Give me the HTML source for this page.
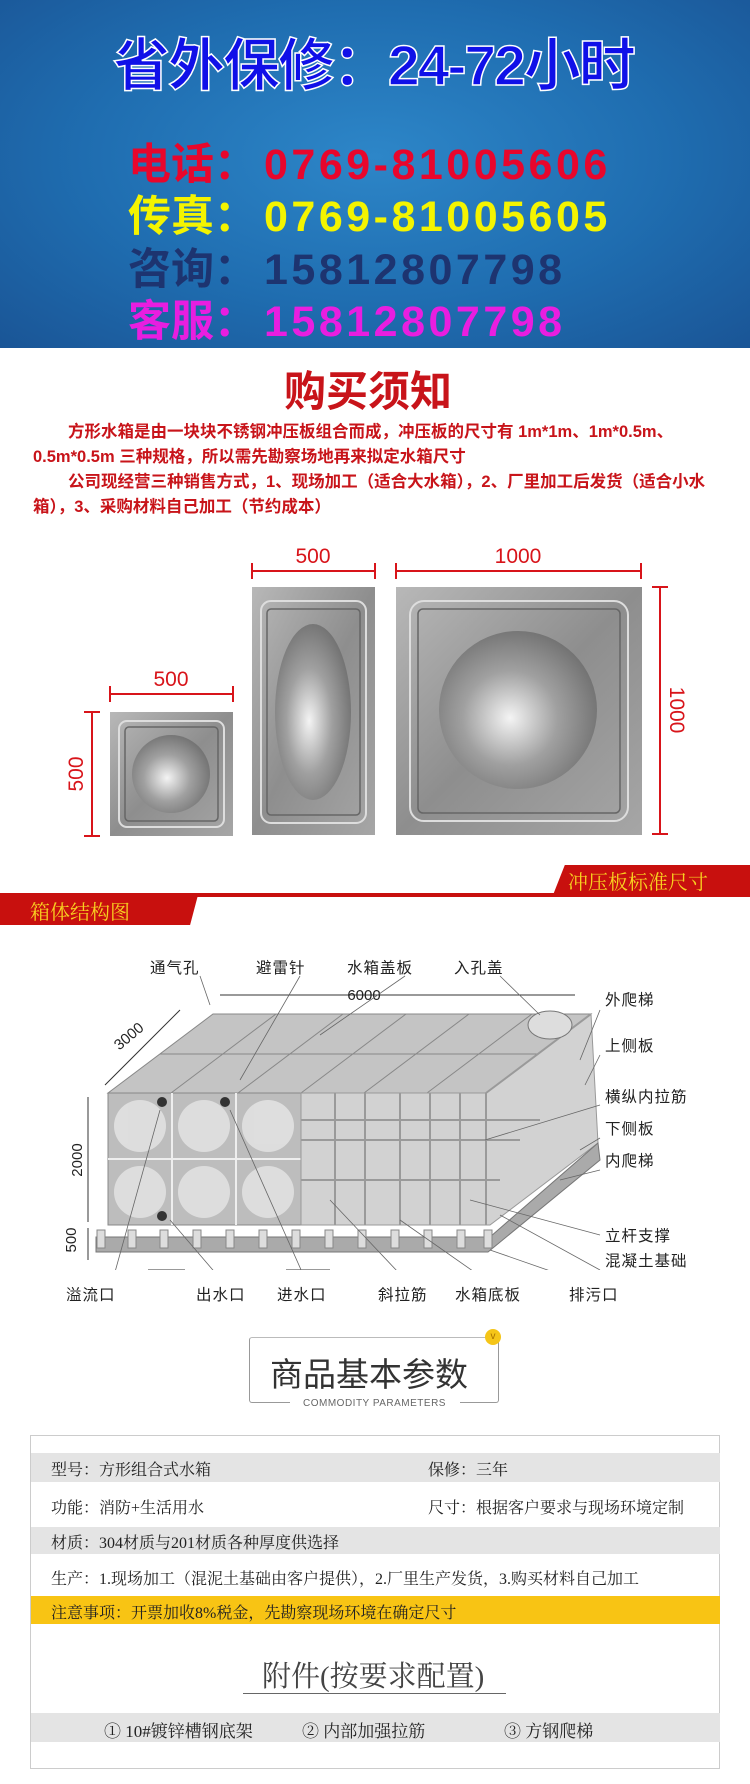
<!DOCTYPE html>
<html><head><meta charset="utf-8"><style>
*{margin:0;padding:0;box-sizing:border-box}
body{width:750px;height:1784px;position:relative;background:#fff;overflow:hidden;font-family:"Liberation Sans","Noto Sans CJK SC",sans-serif}
.a{position:absolute;white-space:nowrap}
#hdr{position:absolute;left:0;top:0;width:750px;height:348px;background:radial-gradient(ellipse at 50% 45%,#2d86c8 0%,#1f6db0 55%,#1a5596 100%)}
.ph{font-weight:bold;font-size:43px;line-height:48px}
.n{letter-spacing:3.5px}
.p{font-size:16.5px;font-weight:bold;color:#c8141a;line-height:25px}
.lb{font-size:15.5px;color:#222;font-family:"Liberation Sans","Noto Sans CJK SC",sans-serif;letter-spacing:1px}
.t{font-family:"Liberation Serif","Noto Serif CJK SC",serif;font-size:16px;color:#222}
.row{position:absolute;left:31px;width:689px}
</style></head><body>
<div id="hdr"></div>
<div class="a" style="left:113px;top:30px;font-size:57px;font-weight:bold;color:#1010e8;-webkit-text-stroke:1.5px #fff;letter-spacing:-2px;line-height:72px">省外保修：24-72小时</div>
<div class="a ph" style="left:128px;top:141px;color:#e8062c">电话：</div><div class="a ph n" style="left:264px;top:141px;color:#e8062c">0769-81005606</div>
<div class="a ph" style="left:128px;top:193px;color:#f4f400">传真：</div><div class="a ph n" style="left:264px;top:193px;color:#f4f400">0769-81005605</div>
<div class="a ph" style="left:128px;top:246px;color:#1d3470">咨询：</div><div class="a ph n" style="left:264px;top:246px;color:#1d3470">15812807798</div>
<div class="a ph" style="left:128px;top:298px;color:#e81ee0">客服：</div><div class="a ph n" style="left:264px;top:298px;color:#e81ee0">15812807798</div>

<div class="a" style="left:284px;top:358px;font-size:42px;font-weight:bold;color:#c8141a">购买须知</div>
<div class="a p" style="left:33px;top:420px;width:690px;white-space:normal;text-indent:35px">方形水箱是由一块块不锈钢冲压板组合而成，冲压板的尺寸有 1m*1m、1m*0.5m、0.5m*0.5m 三种规格，所以需先勘察场地再来拟定水箱尺寸</div>
<div class="a p" style="left:33px;top:470px;width:690px;white-space:normal;text-indent:35px">公司现经营三种销售方式，1、现场加工（适合大水箱），2、厂里加工后发货（适合小水箱），3、采购材料自己加工（节约成本）</div>

<svg class="a" style="left:0;top:540px" width="750" height="320" viewBox="0 540 750 320">
<defs>
<linearGradient id="pl" x1="0" y1="0" x2="1" y2="1"><stop offset="0" stop-color="#b8b8b8"/><stop offset=".5" stop-color="#8e8e8e"/><stop offset="1" stop-color="#a6a6a6"/></linearGradient>
<radialGradient id="dm" cx=".45" cy=".55" r=".6"><stop offset="0" stop-color="#f4f4f4"/><stop offset=".5" stop-color="#a0a0a0"/><stop offset="1" stop-color="#6e6e6e"/></radialGradient>
</defs>
<g stroke="#d8141a" stroke-width="2" fill="none">
<path d="M110 694H233M110 686V702M233 686V702"/>
<path d="M252 571H375M252 563V579M375 563V579"/>
<path d="M396 571H641M396 563V579M641 563V579"/>
<path d="M660 587V834M652 587H668M652 834H668"/>
<path d="M92 712V836M84 712H100M84 836H100"/>
</g>
<g fill="#d8141a" font-size="21" font-family="Liberation Sans">
<text x="171" y="686" text-anchor="middle">500</text>
<text x="313" y="563" text-anchor="middle">500</text>
<text x="518" y="563" text-anchor="middle">1000</text>
<text transform="translate(670,710) rotate(90)" text-anchor="middle">1000</text>
<text transform="translate(83,774) rotate(-90)" text-anchor="middle">500</text>
</g>
<rect x="110" y="712" width="123" height="124" fill="url(#pl)"/>
<rect x="119" y="721" width="105" height="106" rx="8" fill="none" stroke="#ddd" stroke-width="2"/>
<rect x="125" y="727" width="93" height="94" rx="4" fill="none" stroke="#666" stroke-width="1.5"/>
<circle cx="171" cy="774" r="39" fill="url(#dm)"/>
<rect x="252" y="587" width="123" height="248" fill="url(#pl)"/>
<rect x="261" y="601" width="105" height="222" rx="10" fill="none" stroke="#ddd" stroke-width="2"/>
<rect x="267" y="609" width="93" height="206" rx="4" fill="none" stroke="#666" stroke-width="1.5"/>
<ellipse cx="313" cy="712" rx="38" ry="88" fill="url(#dm)"/>
<rect x="396" y="587" width="246" height="248" fill="url(#pl)"/>
<rect x="410" y="601" width="218" height="220" rx="14" fill="none" stroke="#ddd" stroke-width="2"/>
<rect x="418" y="609" width="202" height="204" rx="5" fill="none" stroke="#666" stroke-width="1.5"/>
<circle cx="518" cy="710" r="79" fill="url(#dm)"/>
</svg>

<div class="a" style="left:0;top:893px;width:750px;height:4px;background:#c8100e"></div>
<div class="a" style="left:553px;top:865px;width:197px;height:30px;background:#c8100e;clip-path:polygon(6% 0,100% 0,100% 100%,0 100%)"></div>
<div class="a" style="left:568px;top:866px;font-size:20px;color:#f8d020;font-family:'Liberation Serif','Noto Serif CJK SC',serif">冲压板标准尺寸</div>
<div class="a" style="left:0;top:895px;width:198px;height:30px;background:#c8100e;clip-path:polygon(0 0,100% 0,96% 100%,0 100%)"></div>
<div class="a" style="left:30px;top:896px;font-size:20px;color:#f8d020;font-family:'Liberation Serif','Noto Serif CJK SC',serif">箱体结构图</div>

<svg class="a" style="left:0;top:950px" width="750" height="320" viewBox="0 950 750 320">
<g fill="#c4c4c4" stroke="#888" stroke-width="1">
<polygon points="108,1093 213,1014 591,1014 486,1093"/>
<line x1="171" y1="1093" x2="276" y2="1014"/><line x1="238" y1="1093" x2="343" y2="1014"/><line x1="301" y1="1093" x2="406" y2="1014"/><line x1="364" y1="1093" x2="469" y2="1014"/><line x1="427" y1="1093" x2="532" y2="1014"/>
<line x1="160" y1="1054" x2="538" y2="1054"/>
</g>
<rect x="108" y="1093" width="193" height="132" fill="#bdbdbd" stroke="#888"/>
<g stroke="#eee" stroke-width="2" fill="none"><path d="M172 1093V1225M236 1093V1225M108 1159H301"/></g>
<g fill="#e6e6e6" opacity=".8"><circle cx="140" cy="1126" r="26"/><circle cx="204" cy="1126" r="26"/><circle cx="268" cy="1126" r="26"/><circle cx="140" cy="1192" r="26"/><circle cx="204" cy="1192" r="26"/><circle cx="268" cy="1192" r="26"/></g>
<polygon points="301,1093 486,1093 591,1014 598,1143 490,1225 301,1225" fill="#d2d2d2" stroke="#999"/>
<g stroke="#9a9a9a" stroke-width="2" fill="none">
<path d="M335 1093V1225M365 1093V1225M400 1093V1225M430 1093V1225M460 1093V1225M301 1140H520M301 1180H500M301 1120H540"/>
<path d="M486 1093L591 1014M486 1093V1225"/>
</g>
<polygon points="96,1237 490,1237 598,1143 600,1160 488,1252 96,1252" fill="#aaa" stroke="#777"/>
<g fill="#ddd" stroke="#888"><rect x="97" y="1230" width="8" height="18"/><rect x="128" y="1230" width="8" height="18"/><rect x="160" y="1230" width="8" height="18"/><rect x="193" y="1230" width="8" height="18"/><rect x="226" y="1230" width="8" height="18"/><rect x="259" y="1230" width="8" height="18"/><rect x="292" y="1230" width="8" height="18"/><rect x="325" y="1230" width="8" height="18"/><rect x="358" y="1230" width="8" height="18"/><rect x="391" y="1230" width="8" height="18"/><rect x="424" y="1230" width="8" height="18"/><rect x="457" y="1230" width="8" height="18"/><rect x="484" y="1230" width="8" height="18"/></g>
<g fill="#333"><circle cx="162" cy="1102" r="5"/><circle cx="225" cy="1102" r="5"/><circle cx="162" cy="1216" r="5"/></g>
<ellipse cx="550" cy="1025" rx="22" ry="14" fill="#ddd" stroke="#777"/>
<g stroke="#333" stroke-width="1" fill="none">
<path d="M220 995H575M105 1085L180 1010M88 1097V1222M88 1228V1260M148 1270H185M286 1270H330"/>
</g>
<g font-size="15" fill="#222" font-family="Liberation Sans">
<text x="364" y="1000" text-anchor="middle">6000</text>
<text transform="translate(132,1040) rotate(-40)" text-anchor="middle">3000</text>
<text transform="translate(82,1160) rotate(-90)" text-anchor="middle">2000</text>
<text transform="translate(76,1240) rotate(-90)" text-anchor="middle">500</text>
<text x="165" y="1282" text-anchor="middle">240</text>
<text x="311" y="1282" text-anchor="middle">500</text>
</g>
<g stroke="#666" stroke-width=".8" fill="none"><path d="M200 976L210 1005M300 976L240 1080M405 976L320 1035M500 976L540 1015M600 1010L580 1060M600 1055L585 1085M600 1105L485 1140M600 1138L580 1150M600 1170L560 1180M600 1235L470 1200M600 1270L500 1215M110 1290L160 1110M230 1290L170 1220M310 1290L230 1110M415 1290L330 1200M500 1290L400 1220M605 1290L490 1250"/></g>
</svg>
<div class="a lb" style="left:150px;top:956px">通气孔</div>
<div class="a lb" style="left:256px;top:956px">避雷针</div>
<div class="a lb" style="left:347px;top:956px">水箱盖板</div>
<div class="a lb" style="left:454px;top:956px">入孔盖</div>
<div class="a lb" style="left:605px;top:988px">外爬梯</div>
<div class="a lb" style="left:605px;top:1034px">上侧板</div>
<div class="a lb" style="left:605px;top:1085px">横纵内拉筋</div>
<div class="a lb" style="left:605px;top:1117px">下侧板</div>
<div class="a lb" style="left:605px;top:1149px">内爬梯</div>
<div class="a lb" style="left:605px;top:1224px">立杆支撑</div>
<div class="a lb" style="left:605px;top:1249px">混凝土基础</div>
<div class="a lb" style="left:66px;top:1283px">溢流口</div>
<div class="a lb" style="left:196px;top:1283px">出水口</div>
<div class="a lb" style="left:277px;top:1283px">进水口</div>
<div class="a lb" style="left:378px;top:1283px">斜拉筋</div>
<div class="a lb" style="left:455px;top:1283px">水箱底板</div>
<div class="a lb" style="left:569px;top:1283px">排污口</div>

<div class="a" style="left:249px;top:1337px;width:250px;height:66px;border:1px solid #999;border-top-color:#bbb;border-radius:3px"></div>
<div class="a" style="left:290px;top:1398px;width:170px;height:10px;background:#fff"></div>
<div class="a" style="left:485px;top:1329px;width:16px;height:16px;border-radius:50%;background:#f5c518;color:#a67000;font-size:10px;text-align:center;line-height:16px">v</div>
<div class="a" style="left:270px;top:1348px;font-size:33px;color:#333">商品基本参数</div>
<div class="a" style="left:303px;top:1398px;font-size:10px;color:#666;letter-spacing:.5px">COMMODITY PARAMETERS</div>

<div class="a" style="left:30px;top:1435px;width:690px;height:334px;border:1px solid #ccc"></div>
<div class="row" style="top:1453px;height:29px;background:#e4e4e4"></div>
<div class="row" style="top:1527px;height:27px;background:#e4e4e4"></div>
<div class="row" style="top:1596px;height:28px;background:#f8c414"></div>
<div class="row" style="top:1713px;height:29px;background:#e4e4e4"></div>
<div class="a t" style="left:51px;top:1457px">型号：方形组合式水箱</div>
<div class="a t" style="left:428px;top:1457px">保修：三年</div>
<div class="a t" style="left:51px;top:1495px">功能：消防+生活用水</div>
<div class="a t" style="left:428px;top:1495px">尺寸：根据客户要求与现场环境定制</div>
<div class="a t" style="left:51px;top:1530px">材质：304材质与201材质各种厚度供选择</div>
<div class="a t" style="left:51px;top:1566px">生产：1.现场加工（混泥土基础由客户提供），2.厂里生产发货，3.购买材料自己加工</div>
<div class="a t" style="left:51px;top:1600px">注意事项：开票加收8%税金，先勘察现场环境在确定尺寸</div>
<div class="a t" style="left:262px;top:1654px;font-size:29px;color:#444">附件(按要求配置)</div>
<div class="a" style="left:243px;top:1693px;width:263px;height:1px;background:#666"></div>
<div class="a t" style="left:104px;top:1717px;font-size:17px">① 10#镀锌槽钢底架</div>
<div class="a t" style="left:302px;top:1717px;font-size:17px">② 内部加强拉筋</div>
<div class="a t" style="left:504px;top:1717px;font-size:17px">③ 方钢爬梯</div>
</body></html>
